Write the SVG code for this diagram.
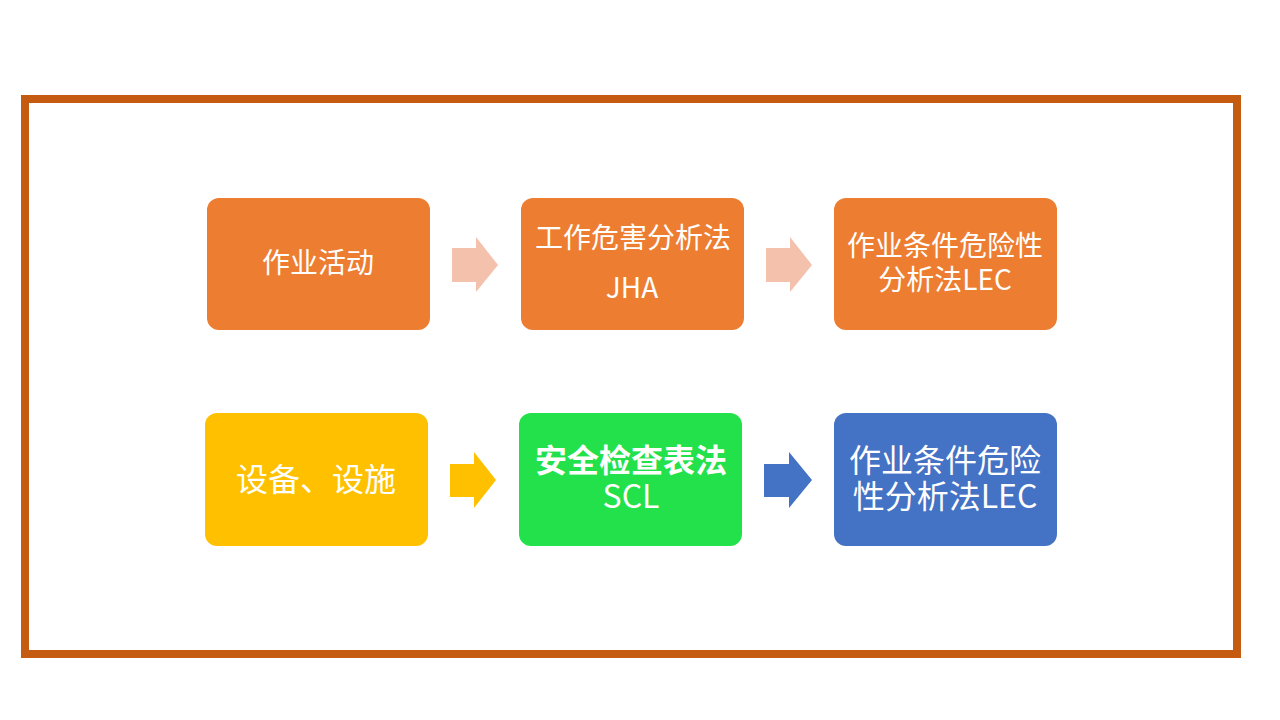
<svg xmlns="http://www.w3.org/2000/svg" width="1280" height="720" viewBox="0 0 1280 720">
<style>
.t{font-family:"Noto Sans CJK SC","Noto Sans",sans-serif;fill:#fff;text-anchor:middle}
.s28{font-size:28px}
.s32{font-size:32px}
.b{font-weight:bold}
</style>
<rect width="1280" height="720" fill="#fff"/>
<rect x="25" y="99" width="1212" height="555" fill="none" stroke="#C55A11" stroke-width="8"/>
<g id="connectors">
<polygon points="452,248 476,248 476,237 498,265 476,292 476,282 452,282" fill="#F4C1AC"/>
<polygon points="766,248 790,248 790,237 812,265 790,292 790,282 766,282" fill="#F4C1AC"/>
<polygon points="450,464 474,464 474,452 496,480 474,508 474,497 450,497" fill="#FFC000"/>
<polygon points="764,464 789,464 789,452 812,480 789,508 789,497 764,497" fill="#4472C4"/>
</g>
<g id="n1">
<rect x="207" y="198" width="223" height="132" rx="12" fill="#ED7D31"/>
<text class="t s28" x="318" y="273">作业活动</text>
</g>
<g id="n2">
<rect x="521" y="198" width="223" height="132" rx="12" fill="#ED7D31"/>
<text class="t s28" x="633" y="248">工作危害分析法</text>
<text class="t s28" x="632" y="298">JHA</text>
</g>
<g id="n3">
<rect x="834" y="198" width="223" height="132" rx="12" fill="#ED7D31"/>
<text class="t s28" x="945" y="256">作业条件危险性</text>
<text class="t s28" x="945" y="290">分析法LEC</text>
</g>
<g id="n4">
<rect x="205" y="413" width="223" height="133" rx="12" fill="#FFC000"/>
<text class="t s32" x="316" y="491">设备、设施</text>
</g>
<g id="n5">
<rect x="519" y="413" width="223" height="133" rx="12" fill="#22E14A"/>
<text class="t s32 b" x="631" y="472">安全检查表法</text>
<text class="t s32" x="631" y="508">SCL</text>
</g>
<g id="n6">
<rect x="834" y="413" width="223" height="133" rx="12" fill="#4472C4"/>
<text class="t s32" x="945" y="472">作业条件危险</text>
<text class="t s32" x="945" y="508">性分析法LEC</text>
</g>
</svg>
